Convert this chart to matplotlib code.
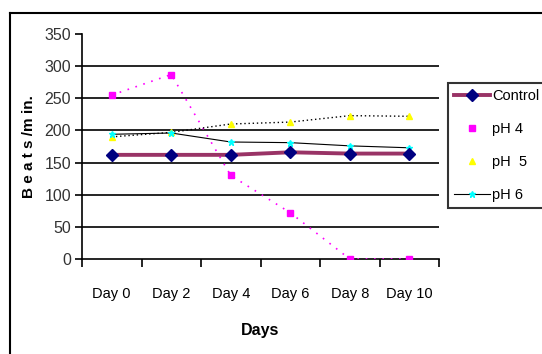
import matplotlib
matplotlib.use("Agg")
import matplotlib.pyplot as plt
from matplotlib.lines import Line2D
from matplotlib.ticker import FixedLocator, MultipleLocator

days = ["Day 0", "Day 2", "Day 4", "Day 6", "Day 8", "Day 10"]
control = [162, 162, 162, 166, 164, 164]
ph4 = [255, 287, 130, 72, 0, 0]
ph5 = [190, 197, 210, 213, 223, 222]
ph6 = [194, 196, 182, 181, 176, 173]

plt.rcParams['font.family'] = ['Liberation Sans', 'DejaVu Sans']

fig = plt.figure(figsize=(5.42, 3.54), dpi=100)
ax = fig.add_axes([82/542, 1-259/354, (439-82)/542, (259-34)/354])

x = list(range(len(days)))
ax.plot(x, ph4, color="#ff00ff", linestyle=(0, (1, 4)), lw=1.2, marker="s", ms=4,
        mfc="#ff00ff", mec="#ff00ff", label="pH 4", zorder=3)
ax.plot(x, ph5, color="black", linestyle=(0, (1, 2)), lw=1, marker="^", ms=5,
        mfc="#ffff00", mec="#ffff00", label="pH  5", zorder=3)
ax.plot(x, ph6, color="black", lw=0.8, marker="*", ms=5,
        mfc="#00ffff", mec="#00ffff", label="pH 6", zorder=4)
ax.plot(x, control, color="#993366", lw=2.8, marker="D", ms=6,
        mfc="#000080", mec="#000080", label="Control", zorder=5)

ax.set_xlim(-0.5, len(days) - 0.5)
ax.set_ylim(0, 350)
ax.yaxis.set_major_locator(MultipleLocator(50))
for v in range(50, 301, 50):
    ax.axhline(v, color="black", lw=1.2, zorder=1)

ax.set_xticks(x)
ax.set_xticklabels(days, fontsize=10.5)
ax.tick_params(axis="x", which="major", length=0, pad=20)
ax.xaxis.set_minor_locator(FixedLocator([i - 0.5 for i in range(len(days) + 1)]))
ax.tick_params(axis="x", which="minor", length=6, width=1.2, direction="out")
ax.tick_params(axis="y", length=5, width=1.2, labelsize=11.5, pad=3)
for lab in ax.get_yticklabels():
    lab.set_color("#333333")

for s in ["top", "right"]:
    ax.spines[s].set_visible(False)
for s in ["left", "bottom"]:
    ax.spines[s].set_linewidth(1.2)

ax.set_xlabel("Days", fontsize=11.5, fontweight="bold", labelpad=16)
ax.set_ylabel("B e a t s /m in.", fontsize=11, fontweight="bold", labelpad=6)

handles, labels = ax.get_legend_handles_labels()
order = [3, 0, 1, 2]
hs = [handles[i] for i in order]
ls = [labels[i] for i in order]
hs[1] = Line2D([], [], ls="none", marker="s", ms=4, mfc="#ff00ff", mec="#ff00ff")
hs[2] = Line2D([], [], ls="none", marker="^", ms=5, mfc="#ffff00", mec="#ffff00")
leg = fig.legend(hs, ls, loc="upper left", bbox_to_anchor=(448/542, 1-83/354),
                 frameon=True, fancybox=False, edgecolor="black", fontsize=10.5,
                 handlelength=2.5, handletextpad=0.15, labelspacing=1.3,
                 borderpad=0.4, borderaxespad=0)
leg.get_frame().set_linewidth(1.5)

fig.add_artist(Line2D([10/542, 1], [1-13/354, 1-13/354], color="black", lw=1.5))
fig.add_artist(Line2D([10/542, 10/542], [0, 1-13/354], color="black", lw=1.5))

fig.savefig("out.png", dpi=100)
